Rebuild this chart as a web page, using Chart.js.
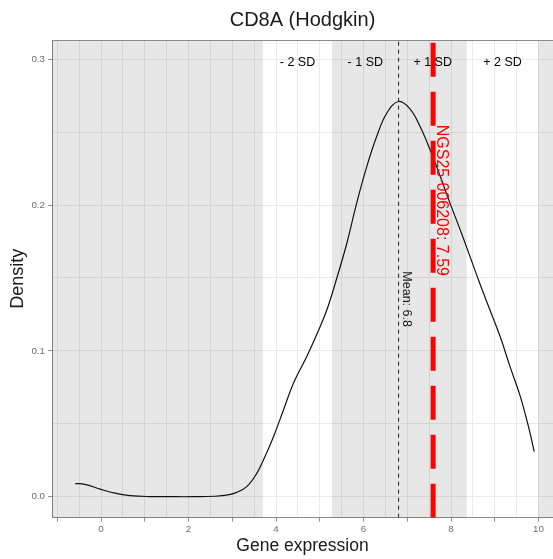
<!DOCTYPE html>
<html>
<head>
<meta charset="utf-8">
<script src="https://cdn.jsdelivr.net/npm/chart.js@4/dist/chart.umd.min.js"></script>
<style>
html, body { margin: 0; padding: 0; background: #fff; overflow: hidden; }
#wrap { width: 553px; height: 559px; }
</style>
</head>
<body>
<div id="wrap"><canvas id="chart"></canvas></div>
<script>
// density curve
let exprValues = [-0.59, -0.37, -0.02, 0.32, 0.66, 1.1, 1.6, 2.1, 2.6, 2.9, 3.1, 3.33, 3.56, 3.71, 3.94,
    4.17, 4.40, 4.70, 4.97, 5.16, 5.35, 5.62, 5.84, 6.07, 6.30, 6.53, 6.80, 7.06, 7.29, 7.52,
    7.75, 7.98, 8.21, 8.43, 8.66, 8.89, 9.12, 9.35, 9.58, 9.77, 9.90];
let densityValues = [0.0090, 0.0085, 0.0052, 0.0024, 0.0008, 0.0001, 0.0, 0.0, 0.0003, 0.0012, 0.0030, 0.0069, 0.016, 0.025, 0.041,
    0.0595, 0.078, 0.096, 0.114, 0.128, 0.146, 0.174, 0.201, 0.226, 0.247, 0.263, 0.271, 0.266, 0.254, 0.238,
    0.220, 0.201, 0.183, 0.165, 0.146, 0.128, 0.110, 0.089, 0.069, 0.048, 0.031];

let meanValue = 6.8;
let sampleName = 'NGS25-006208';
let sampleValue = 7.59;
let sdEdges = [3.70, 5.28, 8.36, 9.99];      // -2 SD, -1 SD, +1 SD, +2 SD
let sdLabels = ['- 2 SD', '- 1 SD', '+ 1 SD', '+ 2 SD'];
let xTickLabels = [0, 2, 4, 6, 8, 10];
let yTickLabels = [0.0, 0.1, 0.2, 0.3];

let xMin = -1.12, xMax = 10.33;
let yMin = -0.0144, yMax = 0.3132;

Chart.defaults.font.family = "'Liberation Sans', Arial, sans-serif";

let curve = exprValues.map((x, i) => ({ x: x, y: densityValues[i] }));

function isInt(v) {
    return Math.abs(v - Math.round(v)) < 1e-6;
}

let bandsPlugin = {
    id: 'bands',
    beforeDatasetsDraw(chart) {
        let ctx = chart.ctx;
        let area = chart.chartArea;
        let x = chart.scales.x;
        let spans = [[xMin, sdEdges[0]], [sdEdges[1], sdEdges[2]], [sdEdges[3], xMax]];
        ctx.save();
        ctx.fillStyle = 'rgba(0,0,0,0.095)';
        spans.forEach(s => {
            let a = x.getPixelForValue(s[0]);
            let b = x.getPixelForValue(s[1]);
            ctx.fillRect(a, area.top, b - a, area.bottom - area.top);
        });
        ctx.restore();
    }
};

let labelsPlugin = {
    id: 'labels',
    afterDatasetsDraw(chart) {
        let ctx = chart.ctx;
        let area = chart.chartArea;
        let x = chart.scales.x;
        let y = chart.scales.y;
        ctx.save();

        // top edge of the panel
        ctx.strokeStyle = '#8c8c8c';
        ctx.lineWidth = 1;
        ctx.beginPath();
        ctx.moveTo(area.left, Math.round(area.top) + 0.5);
        ctx.lineTo(area.right, Math.round(area.top) + 0.5);
        ctx.stroke();

        // SD labels in the middle of each band
        let mids = [(sdEdges[0] + sdEdges[1]) / 2, (sdEdges[1] + meanValue) / 2,
                    (meanValue + sdEdges[2]) / 2, (sdEdges[2] + sdEdges[3]) / 2];
        ctx.fillStyle = '#000';
        ctx.font = "12.5px 'Liberation Sans', Arial, sans-serif";
        ctx.textAlign = 'center';
        ctx.textBaseline = 'middle';
        sdLabels.forEach((t, i) => {
            ctx.fillText(t, x.getPixelForValue(mids[i]), y.getPixelForValue(0.298));
        });

        let peak = Math.max(...densityValues);

        // mean label
        ctx.save();
        ctx.translate(x.getPixelForValue(meanValue) + 7.5, y.getPixelForValue(peak / 2));
        ctx.rotate(Math.PI / 2);
        ctx.fillStyle = '#1a1a1a';
        ctx.fillText('Mean: ' + meanValue, 0, 0);
        ctx.restore();

        // sample label
        ctx.save();
        ctx.translate(x.getPixelForValue(sampleValue) + 8.5, y.getPixelForValue(peak * 0.75));
        ctx.rotate(Math.PI / 2);
        ctx.fillStyle = '#ff0000';
        ctx.font = "16px 'Liberation Sans', Arial, sans-serif";
        ctx.fillText(sampleName + ': ' + sampleValue, 0, 0);
        ctx.restore();

        ctx.restore();
    }
};

new Chart(document.getElementById('chart'), {
    type: 'line',
    data: {
        datasets: [
            {
                data: curve,
                borderColor: '#111',
                borderWidth: 1.2,
                pointRadius: 0,
                tension: 0.4,
                fill: false,
                order: 3
            },
            {
                data: [{ x: meanValue, y: yMin }, { x: meanValue, y: yMax }],
                borderColor: '#333',
                borderWidth: 1.1,
                borderDash: [4, 4],
                pointRadius: 0,
                fill: false,
                order: 2
            },
            {
                data: [{ x: sampleValue, y: yMin }, { x: sampleValue, y: yMax }],
                borderColor: '#ff0000',
                borderWidth: 5,
                borderDash: [34, 15],
                borderCapStyle: 'butt',
                pointRadius: 0,
                fill: false,
                order: 1
            }
        ]
    },
    options: {
        responsive: true,
        maintainAspectRatio: false,
        animation: false,
        layout: { padding: 0 },
        plugins: {
            legend: { display: false },
            tooltip: { enabled: false },
            title: {
                display: true,
                text: 'CD8A (Hodgkin)',
                fullSize: false,
                color: '#1a1a1a',
                font: { size: 20, weight: 'normal' },
                padding: { top: 8, bottom: 8 }
            }
        },
        scales: {
            x: {
                type: 'linear',
                min: xMin,
                max: xMax,
                afterBuildTicks: s => {
                    let t = [];
                    for (let v = -1; v <= 10; v += 0.5) t.push({ value: v });
                    s.ticks = t;
                },
                afterFit: s => { s.height = 41.3; },
                grid: {
                    color: '#ebebeb',
                    lineWidth: 1,
                    tickLength: 4,
                    tickColor: c => isInt(c.tick.value) ? '#8c8c8c' : 'rgba(0,0,0,0)'
                },
                border: { display: true, color: '#8c8c8c', width: 1 },
                ticks: {
                    autoSkip: false,
                    maxRotation: 0,
                    padding: 2,
                    color: '#6e6e6e',
                    font: { size: 9.8 },
                    callback: v => xTickLabels.includes(v) ? String(v) : ''
                },
                title: {
                    display: true,
                    text: 'Gene expression',
                    color: '#1a1a1a',
                    font: { size: 17.5 },
                    padding: 2
                }
            },
            y: {
                type: 'linear',
                min: yMin,
                max: yMax,
                afterBuildTicks: s => {
                    let t = [];
                    for (let i = 0; i <= 6; i++) t.push({ value: i * 0.05 });
                    s.ticks = t;
                },
                afterFit: s => { s.width = 52; },
                grid: {
                    color: '#ebebeb',
                    lineWidth: 1,
                    tickLength: 4,
                    tickColor: c => yTickLabels.some(t => Math.abs(t - c.tick.value) < 1e-9) ? '#8c8c8c' : 'rgba(0,0,0,0)'
                },
                border: { display: true, color: '#8c8c8c', width: 1 },
                ticks: {
                    padding: 3,
                    color: '#6e6e6e',
                    font: { size: 9.8 },
                    callback: v => {
                        let t = yTickLabels.find(t => Math.abs(t - v) < 1e-9);
                        return t === undefined ? '' : t.toFixed(1);
                    }
                },
                title: {
                    display: true,
                    text: 'Density',
                    color: '#1a1a1a',
                    font: { size: 18 },
                    padding: 7
                }
            }
        }
    },
    plugins: [bandsPlugin, labelsPlugin]
});
</script>
</body>
</html>
